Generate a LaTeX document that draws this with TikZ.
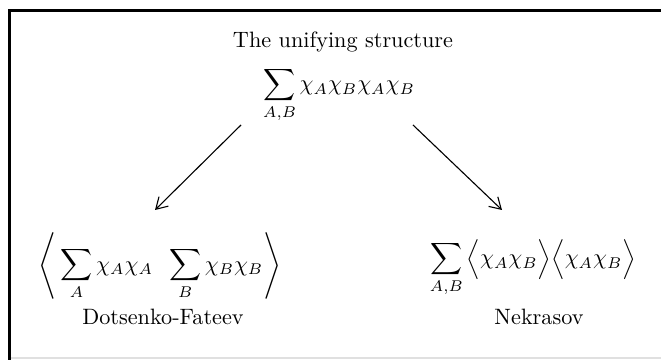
\documentclass[tikz,border=0pt]{standalone}
\usepackage{amsmath}
\usetikzlibrary{arrows.meta}
\begin{document}
\begin{tikzpicture}[x=0.45pt,y=-0.45pt,
  lbl/.style={inner sep=0pt, font=\normalsize},
  arr/.style={-{Straight Barb[length=5pt,width=6pt]}, line width=0.5pt},
  frame/.style={line width=1.35pt}]
\useasboundingbox (0,0) rectangle (661,360);
\fill[white] (0,0) rectangle (661,360);
\draw[frame] (9.5,360) -- (9.5,10.5) -- (661,10.5);
\draw[black!12, line width=0.5pt] (11,358) -- (661,358);

\node[lbl] (title) at (343,42) {The unifying structure};
\node[lbl] (top) at (339,95) {$\displaystyle\sum_{A,B}\chi_A\chi_B\chi_A\chi_B$};
\node[lbl] (left) at (160,266) {$\displaystyle\left\langle\,\sum_{A}\chi_A\chi_A\;\;\sum_{B}\chi_B\chi_B\right\rangle$};
\node[lbl] (df) at (163,317) {Dotsenko-Fateev};
\node[lbl] (right) at (533,268) {$\displaystyle\sum_{A,B}\Big\langle\chi_A\chi_B\Big\rangle\Big\langle\chi_A\chi_B\Big\rangle$};
\node[lbl] (nk) at (539,317) {Nekrasov};

\coordinate (s1) at (241,125);
\coordinate (e1) at (155,210);
\coordinate (s2) at (413,125);
\coordinate (e2) at (502,210);
\draw[arr] (s1) -- (e1);
\draw[arr] (s2) -- (e2);
\end{tikzpicture}
\end{document}
